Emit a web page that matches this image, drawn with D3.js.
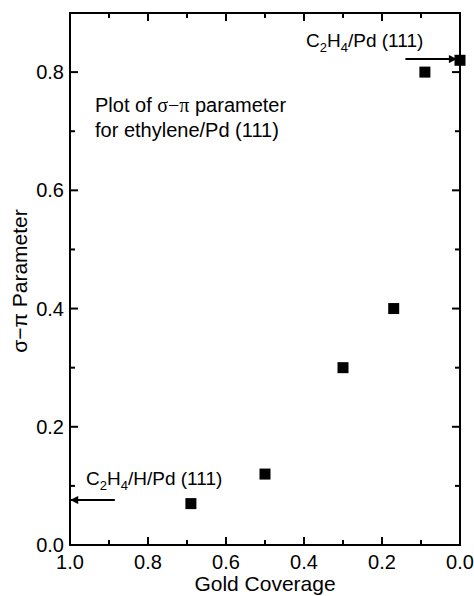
<!DOCTYPE html>
<html><head><meta charset="utf-8">
<script src="https://cdn.jsdelivr.net/npm/d3@7"></script>
<style>body{margin:0;background:#fff}svg{display:block}text{font-family:"Liberation Sans",Arial,sans-serif;fill:#000}</style>
</head><body>
<svg id="c" width="474" height="596"></svg>
<script>
const coverage = [0.69, 0.50, 0.30, 0.17, 0.09, 0.00];
const sigmaPi = [0.07, 0.12, 0.30, 0.40, 0.80, 0.82];
const xTicks = [1.0, 0.8, 0.6, 0.4, 0.2, 0.0];
const yTicks = [0.0, 0.2, 0.4, 0.6, 0.8];
const minorX = d3.range(0, 11).map(i => i / 10);
const minorY = d3.range(0, 10).map(i => i / 10);
const arrowTopY = 0.822, arrowTopFrom = 0.14, arrowTopTo = 0.01;
const arrowBotY = 0.076, arrowBotFrom = 0.885, arrowBotTo = 1.0;

const svg = d3.select("#c");
const L = 70, R = 460, T = 13, B = 545;
const x = d3.scaleLinear().domain([1.0, 0.0]).range([L, R]);
const y = d3.scaleLinear().domain([0, 0.9]).range([B, T]);
const fmt = d3.format(".1f");

const axes = svg.append("g").attr("stroke", "#000").attr("stroke-width", 2).attr("fill", "none");
axes.append("rect").attr("x", L).attr("y", T).attr("width", R - L).attr("height", B - T);
minorX.forEach(v => {
  const major = xTicks.some(t => Math.abs(t - v) < 1e-9);
  axes.append("line").attr("x1", x(v)).attr("x2", x(v)).attr("y1", B).attr("y2", B - (major ? 8 : 5));
  axes.append("line").attr("x1", x(v)).attr("x2", x(v)).attr("y1", T).attr("y2", T + (major ? 8 : 5));
});
minorY.forEach(v => {
  const major = yTicks.some(t => Math.abs(t - v) < 1e-9);
  const len = major ? 8 : 5;
  axes.append("line").attr("x1", L).attr("x2", L + len).attr("y1", y(v)).attr("y2", y(v));
  axes.append("line").attr("x1", R).attr("x2", R - len).attr("y1", y(v)).attr("y2", y(v));
});
// tick labels
svg.append("g").selectAll("text").data(xTicks).join("text")
  .attr("x", d => x(d)).attr("y", B + 24).attr("text-anchor", "middle")
  .attr("font-size", 20).text(fmt);
svg.append("g").selectAll("text").data(yTicks).join("text")
  .attr("x", L - 6).attr("y", d => y(d) + 7).attr("text-anchor", "end")
  .attr("font-size", 20).text(fmt);
// axis titles
svg.append("text").attr("x", 265).attr("y", 591).attr("text-anchor", "middle")
  .attr("font-size", 21).text("Gold Coverage");
svg.append("text").attr("transform", `translate(27,281) rotate(-90)`)
  .attr("text-anchor", "middle").attr("font-size", 21).text("σ−π Parameter");

// points
const pts = coverage.map((c, i) => ({c, v: sigmaPi[i]}));
svg.append("g").selectAll("rect").data(pts).join("rect")
  .attr("x", d => x(d.c) - 5.5).attr("y", d => y(d.v) - 5.5)
  .attr("width", 11).attr("height", 11).attr("fill", "#000");

// arrows
const defs = svg.append("defs");
defs.append("marker").attr("id", "ah").attr("viewBox", "0 0 10 10").attr("refX", 9).attr("refY", 5)
  .attr("markerWidth", 5).attr("markerHeight", 4).attr("orient", "auto").attr("markerUnits", "strokeWidth")
  .append("path").attr("d", "M0,0 L10,5 L0,10 z").attr("fill", "#000");
svg.append("line").attr("x1", x(arrowTopFrom)).attr("x2", x(arrowTopTo))
  .attr("y1", y(arrowTopY)).attr("y2", y(arrowTopY))
  .attr("stroke", "#000").attr("stroke-width", 2).attr("marker-end", "url(#ah)");
svg.append("line").attr("x1", x(arrowBotFrom)).attr("x2", x(arrowBotTo) + 1)
  .attr("y1", y(arrowBotY)).attr("y2", y(arrowBotY))
  .attr("stroke", "#000").attr("stroke-width", 2).attr("marker-end", "url(#ah)");

// annotations
function chem(xp, yp, parts) {
  const t = svg.append("text").attr("x", xp).attr("y", yp).attr("font-size", 19);
  parts.forEach(p => {
    const s = t.append("tspan").text(p[0]);
    if (p[1] === "sub") s.attr("font-size", 13).attr("dy", 5);
    else if (p[1] === "up") s.attr("dy", -5);
  });
}
chem(306, 47, [["C"], ["2", "sub"], ["H", "up"], ["4", "sub"], ["/Pd (111)", "up"]]);
chem(86, 485, [["C"], ["2", "sub"], ["H", "up"], ["4", "sub"], ["/H/Pd (111)", "up"]]);
const p1 = svg.append("text").attr("x", 95).attr("y", 112).attr("font-size", 20);
p1.append("tspan").text("Plot of ");
p1.append("tspan").attr("font-family", "Liberation Serif").text("σ−π");
p1.append("tspan").text(" parameter");
svg.append("text").attr("x", 95).attr("y", 137).attr("font-size", 20).text("for ethylene/Pd (111)");
</script>
</body></html>
